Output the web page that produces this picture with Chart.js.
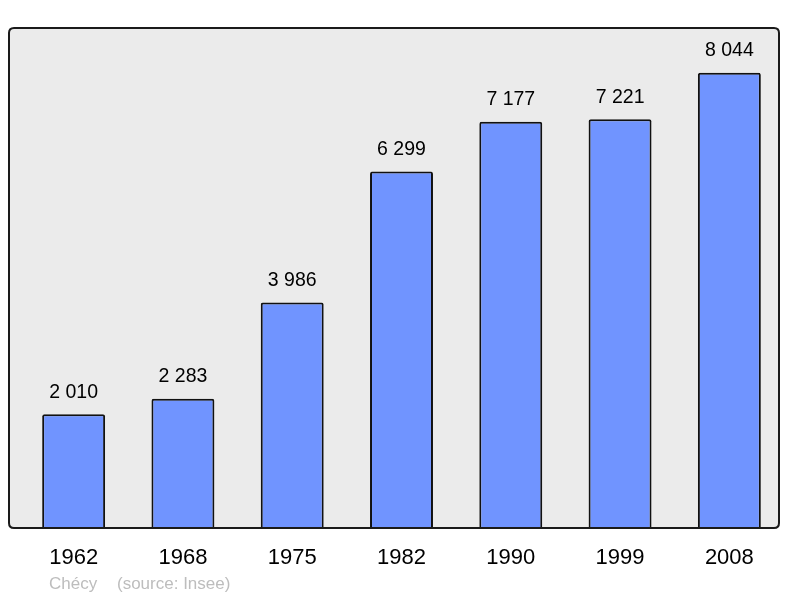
<!DOCTYPE html>
<html>
<head>
<meta charset="utf-8">
<script src="https://cdn.jsdelivr.net/npm/chart.js@4"></script>
<style>
  html, body { margin: 0; padding: 0; background: #fff; }
  #wrap { width: 800px; height: 598px; }
</style>
</head>
<body>
<div id="wrap"><canvas id="chart" width="800" height="598"></canvas></div>
<script>
// données
const years = ["1962", "1968", "1975", "1982", "1990", "1999", "2008"];
const population = [2010, 2283, 3986, 6299, 7177, 7221, 8044];
const yMax = 8834;

const frame = { left: 9, top: 28, right: 779, bottom: 528 };

function fmt(n) {
  return String(n).replace(/\B(?=(\d{3})+(?!\d))/g, " ");
}

function roundRect(ctx, x, y, w, h, r) {
  ctx.beginPath();
  ctx.moveTo(x + r, y);
  ctx.lineTo(x + w - r, y);
  ctx.quadraticCurveTo(x + w, y, x + w, y + r);
  ctx.lineTo(x + w, y + h - r);
  ctx.quadraticCurveTo(x + w, y + h, x + w - r, y + h);
  ctx.lineTo(x + r, y + h);
  ctx.quadraticCurveTo(x, y + h, x, y + h - r);
  ctx.lineTo(x, y + r);
  ctx.quadraticCurveTo(x, y, x + r, y);
  ctx.closePath();
}

const decor = {
  id: "decor",
  beforeDraw(chart) {
    const ctx = chart.ctx;
    ctx.save();
    roundRect(ctx, frame.left, frame.top, frame.right - frame.left, frame.bottom - frame.top, 5);
    ctx.fillStyle = "#ebebeb";
    ctx.fill();
    ctx.restore();
  },
  afterDatasetsDraw(chart) {
    const ctx = chart.ctx;
    const meta = chart.getDatasetMeta(0);
    ctx.save();
    ctx.font = "19.5px 'Liberation Sans', Arial, sans-serif";
    ctx.fillStyle = "#000";
    ctx.textAlign = "center";
    ctx.textBaseline = "middle";
    meta.data.forEach((bar, i) => {
      ctx.fillText(fmt(population[i]), bar.x, bar.y - 22);
    });
    ctx.restore();
  },
  afterDraw(chart) {
    const ctx = chart.ctx;
    ctx.save();
    roundRect(ctx, frame.left, frame.top, frame.right - frame.left, frame.bottom - frame.top, 5);
    ctx.lineWidth = 2;
    ctx.strokeStyle = "#1a1a1a";
    ctx.stroke();
    ctx.font = "17px 'Liberation Sans', Arial, sans-serif";
    ctx.fillStyle = "#bdbdbd";
    ctx.textAlign = "left";
    ctx.textBaseline = "middle";
    ctx.fillText("Chécy", 49, 584);
    ctx.fillText("(source: Insee)", 117, 584);
    ctx.restore();
  }
};

new Chart(document.getElementById("chart").getContext("2d"), {
  type: "bar",
  data: {
    labels: years,
    datasets: [{
      data: population,
      backgroundColor: "#7094ff",
      borderColor: "#111",
      borderWidth: 2,
      borderRadius: 2,
      borderSkipped: "bottom",
      barPercentage: 0.576,
      categoryPercentage: 1
    }]
  },
  options: {
    responsive: false,
    animation: false,
    layout: { padding: { left: 19, right: 16, top: 28, bottom: 30 } },
    plugins: { legend: { display: false }, tooltip: { enabled: false } },
    scales: {
      x: {
        grid: { display: false },
        border: { display: false },
        afterFit(scale) { scale.height = 40; },
        ticks: {
          color: "#000",
          padding: 9,
          font: { size: 22, family: "'Liberation Sans', Arial, sans-serif" }
        }
      },
      y: { display: false, min: 0, max: yMax }
    }
  },
  plugins: [decor]
});
</script>
</body>
</html>
